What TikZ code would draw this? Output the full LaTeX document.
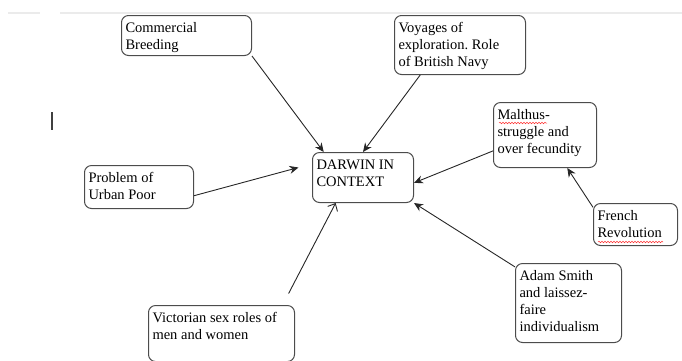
\documentclass[tikz,border=0pt]{standalone}
\usepackage{fontspec}
\setmainfont{Liberation Serif}
\usepackage{tikz}
\usetikzlibrary{shapes, arrows.meta, decorations.pathmorphing}
\tikzstyle{topic} = [rectangle, rounded corners=7pt, draw=black!70, line width=1pt, anchor=north west, inner xsep=4pt, inner ysep=5pt, font=\fontsize{14.5}{17}\selectfont]
\tikzstyle{arrow} = [line width=0.9pt, draw=black!85, -{Stealth[length=9pt, width=8pt]}]
\tikzstyle{openarrow} = [line width=0.9pt, draw=black!85, -{Straight Barb[length=6pt, width=11pt]}]
\tikzstyle{spell} = [red!80, line width=0.5pt, decorate, decoration={snake, amplitude=0.8pt, segment length=3pt}]

\begin{document}
\begin{tikzpicture}[x=1pt, y=-1pt]
\clip (0,0) rectangle (682,360);

%==============================================
%Darwin in context
%==============================================
\draw[black!8, line width=1.5pt] (8,13) -- (40,13) (60,13) -- (682,13);
\draw[black!75, line width=2pt] (51.5,112) -- (51.5,130);

%Centre==============================================
\node (darwin) [topic] at (312,152) {
	\begin{minipage}[c][40pt][t]{93pt}
	\strut DARWIN IN\\
	CONTEXT
	\end{minipage}
};

%Node 1==============================================
\node (breed) [topic] at (121,15) {
	\begin{minipage}[c][30pt][t]{122pt}
	\strut Commercial\\
	Breeding
	\end{minipage}
};

%Node 2==============================================
\node (voyage) [topic] at (394,15) {
	\begin{minipage}[c][49pt][t]{123pt}
	\strut Voyages of\\
	exploration.\ Role\\
	of British Navy
	\end{minipage}
};

%Node 3==============================================
\node (malthus) [topic] at (493,102) {
	\begin{minipage}[c][55pt][t]{95pt}
	\strut Malthus-\\
	struggle and\\
	over fecundity
	\end{minipage}
};

%Node 4==============================================
\node (french) [topic] at (593,203) {
	\begin{minipage}[c][32pt][t]{76pt}
	\strut French\\
	Revolution
	\end{minipage}
};

%Node 5==============================================
\node (urban) [topic] at (84,165) {
	\begin{minipage}[c][33pt][t]{101pt}
	\strut Problem of\\
	Urban Poor
	\end{minipage}
};

%Node 6==============================================
\node (smith) [topic] at (515,263) {
	\begin{minipage}[c][69pt][t]{98pt}
	\strut Adam Smith\\
	and laissez-\\
	faire\\
	individualism
	\end{minipage}
};

%Node 7==============================================
\node (victorian) [topic] at (148,305) {
	\begin{minipage}[c][46pt][t]{138pt}
	\strut Victorian sex roles of\\
	men and women
	\end{minipage}
};

%spelling marks
\draw[spell] (499,123) -- (547,123);
\draw[spell] (598,242) -- (663,242);
%==============================================
\draw [arrow] (breed.south east) -- (darwin.147);
\draw [arrow] (voyage.217) -- (darwin.north);
\draw [arrow] (malthus.197) -- (darwin.354);
\draw [arrow] (french.158) -- (malthus.304);
\draw [arrow, shorten >=14pt] (urban.351) -- (darwin.165);
\draw [arrow] (smith.146) -- (darwin.south east);
\draw [openarrow, shorten <=13pt] (victorian.25) -- (darwin.223);
\end{tikzpicture}
\end{document}
